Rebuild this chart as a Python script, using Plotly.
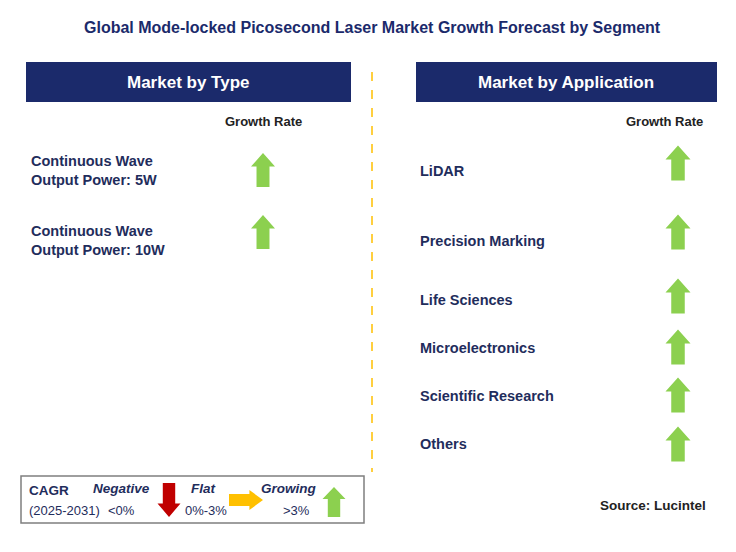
import plotly.graph_objects as go

title = "Global Mode-locked Picosecond Laser Market Growth Forecast by Segment"
type_labels = ["Continuous Wave<br>Output Power: 5W", "Continuous Wave<br>Output Power: 10W"]
type_growth = ["Growing", "Growing"]
app_labels = ["LiDAR", "Precision Marking", "Life Sciences", "Microelectronics",
              "Scientific Research", "Others"]
app_growth = ["Growing"] * 6

NAVY = "#1b2a6b"
TXT = "#1f2d5c"
GREEN = "#8cd04f"
RED = "#c00000"
ORANGE = "#ffc000"
FONT = "Liberation Sans, Arial"
OFF = 8  # page body margin

type_y = [170, 240]
type_arrow_y = [170, 232]
app_y = [171, 241, 300, 348, 396, 444]
app_arrow_y = [163, 232, 296, 347, 395, 444]


def up_arrow(cx, cy, w=24, h=34, color=GREEN):
    t, b = cy - h / 2, cy + h / 2
    hh = h * 0.4
    s = w * 0.27
    p = (f"M {cx} {t} L {cx + w/2} {t + hh} L {cx + s} {t + hh} L {cx + s} {b} "
         f"L {cx - s} {b} L {cx - s} {t + hh} L {cx - w/2} {t + hh} Z")
    return dict(type="path", path=p, fillcolor=color, line=dict(width=0), layer="above")


def down_arrow(cx, cy, w=24, h=34, color=RED):
    t, b = cy - h / 2, cy + h / 2
    hh = h * 0.4
    s = w * 0.27
    p = (f"M {cx} {b} L {cx + w/2} {b - hh} L {cx + s} {b - hh} L {cx + s} {t} "
         f"L {cx - s} {t} L {cx - s} {b - hh} L {cx - w/2} {b - hh} Z")
    return dict(type="path", path=p, fillcolor=color, line=dict(width=0))


def right_arrow(cx, cy, w=34, h=20, color=ORANGE):
    l, r = cx - w / 2, cx + w / 2
    hw = w * 0.4
    s = h * 0.3
    p = (f"M {r} {cy} L {r - hw} {cy - h/2} L {r - hw} {cy - s} L {l} {cy - s} "
         f"L {l} {cy + s} L {r - hw} {cy + s} L {r - hw} {cy + h/2} Z")
    return dict(type="path", path=p, fillcolor=color, line=dict(width=0))


shapes = [
    dict(type="rect", x0=26, x1=351, y0=62, y1=102, fillcolor=NAVY, line=dict(width=0)),
    dict(type="rect", x0=416, x1=717, y0=62, y1=102, fillcolor=NAVY, line=dict(width=0)),
    dict(type="line", x0=372, x1=372, y0=72, y1=472, line=dict(color=ORANGE, width=1.5, dash="dash")),
    dict(type="rect", x0=21, x1=364, y0=476, y1=523, line=dict(color="#7f7f7f", width=1.5)),
]
for y, g in zip(type_arrow_y, type_growth):
    shapes.append(up_arrow(263, y))
for y, g in zip(app_arrow_y, app_growth):
    shapes.append(up_arrow(678, y, w=25, h=35))
shapes += [down_arrow(169, 500, w=23, h=34), right_arrow(246, 500, w=34, h=20),
           up_arrow(334, 502, w=23, h=30)]

ann = []


def txt(x, y, s, size=13, color=TXT, bold=True, italic=False, anchor="left"):
    if bold:
        s = f"<b>{s}</b>"
    if italic:
        s = f"<i>{s}</i>"
    ann.append(dict(x=x, y=y, text=s, showarrow=False, xanchor=anchor, yanchor="middle",
                    align="left", font=dict(family=FONT, size=size, color=color)))


txt(372, 27, title, size=16, color=NAVY, anchor="center")
txt(188, 82, "Market by Type", size=17, color="white", anchor="center")
txt(566, 82, "Market by Application", size=17, color="white", anchor="center")
txt(263, 121, "Growth Rate", size=13, color="#222222", anchor="center")
txt(664, 121, "Growth Rate", size=13, color="#222222", anchor="center")
for y, s in zip(type_y, type_labels):
    txt(29, y, s, size=14.5)
for y, s in zip(app_y, app_labels):
    txt(418, y, s, size=14.5)
txt(27, 490, "CAGR", size=13.5)
txt(27, 510, "(2025-2031)", size=13, bold=False)
txt(121, 488, "Negative", size=13.5, italic=True, anchor="center")
txt(121, 510, "<0%", size=13, bold=False, anchor="center")
txt(203, 488, "Flat", size=13.5, italic=True, anchor="center")
txt(206, 510, "0%-3%", size=13, bold=False, anchor="center")
txt(288, 488, "Growing", size=13.5, italic=True, anchor="center")
txt(296, 510, ">3%", size=13, bold=False, anchor="center")
txt(653, 505, "Source: Lucintel", size=13.5, color="#222222", anchor="center")

fig = go.Figure()
fig.update_layout(
    width=736, height=552, margin=dict(l=0, r=0, t=0, b=0),
    paper_bgcolor="white", plot_bgcolor="white",
    xaxis=dict(range=[OFF, 736 + OFF], visible=False, fixedrange=True),
    yaxis=dict(range=[552 + OFF, OFF], visible=False, fixedrange=True),
    shapes=shapes, annotations=ann, showlegend=False,
)
fig.write_html("out.html")
